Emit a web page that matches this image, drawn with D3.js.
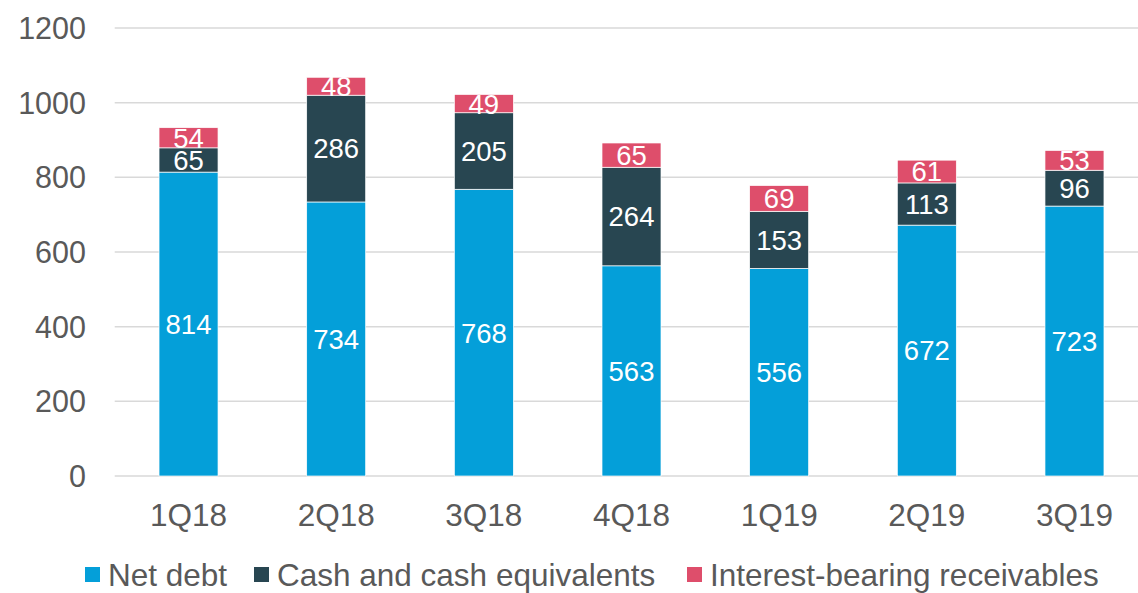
<!DOCTYPE html>
<html><head><meta charset="utf-8">
<script src="https://cdn.jsdelivr.net/npm/d3@7"></script>
<style>body{margin:0;background:#fff}svg{display:block;font-family:"Liberation Sans",Arial,sans-serif}</style>
</head><body>
<svg id="c" width="1138" height="593"></svg>
<script>
const categories = ["1Q18","2Q18","3Q18","4Q18","1Q19","2Q19","3Q19"];
const netDebt = [814,734,768,563,556,672,723];
const cashEquivalents = [65,286,205,264,153,113,96];
const interestReceivables = [54,48,49,65,69,61,53];
const seriesNames = ["Net debt","Cash and cash equivalents","Interest-bearing receivables"];
const seriesColors = ["#049FD9","#284651","#DE4E6B"];
const yTicks = [0,200,400,600,800,1000,1200];

const svg = d3.select("#c");
const x = d3.scaleBand().domain(categories).range([114.7,1148.3]).paddingInner(0.6).paddingOuter(0.3);
const y = d3.scaleLinear().domain([0,1200]).range([476,28]);

const rows = categories.map((c,i)=>({cat:c, s0:netDebt[i], s1:cashEquivalents[i], s2:interestReceivables[i]}));
const stack = d3.stack().keys(["s0","s1","s2"])(rows);

// gridlines
svg.append("g").selectAll("line").data(yTicks).join("line")
  .attr("x1",114.7).attr("x2",1148).attr("y1",d=>y(d)).attr("y2",d=>y(d))
  .attr("stroke","#d9d9d9").attr("stroke-width",1.5);

// y tick labels
svg.append("g").selectAll("text").data(yTicks).join("text")
  .attr("x",86).attr("y",d=>y(d)).attr("text-anchor","end").attr("dy","0.36em")
  .attr("font-size",30.5).attr("fill","#595959").text(d=>d);

// bars
const bw = 59;
stack.forEach((layer,k)=>{
  const g = svg.append("g");
  g.selectAll("rect").data(layer).join("rect")
    .attr("x",d=>x(d.data.cat)+x.bandwidth()/2-bw/2).attr("width",bw)
    .attr("y",d=>y(d[1])).attr("height",d=>y(d[0])-y(d[1]))
    .attr("fill",seriesColors[k]).attr("stroke","#fff").attr("stroke-width",0.7);
  g.selectAll("text").data(layer).join("text")
    .attr("x",d=>x(d.data.cat)+x.bandwidth()/2)
    .attr("y",d=>(y(d[0])+y(d[1]))/2).attr("dy","0.36em")
    .attr("text-anchor","middle").attr("font-size",27.5).attr("fill","#fff")
    .text(d=>d[1]-d[0]);
});

// x labels
svg.append("g").selectAll("text").data(categories).join("text")
  .attr("x",d=>x(d)+x.bandwidth()/2).attr("y",515).attr("dy","0.36em")
  .attr("text-anchor","middle").attr("font-size",31.5).attr("fill","#595959").text(d=>d);

// legend
const legX = [85,254,687];
const lg = svg.append("g");
seriesNames.forEach((n,i)=>{
  lg.append("rect").attr("x",legX[i]).attr("y",567).attr("width",15).attr("height",15).attr("fill",seriesColors[i]);
  lg.append("text").attr("x",legX[i]+23).attr("y",575).attr("dy","0.36em")
    .attr("font-size",31.5).attr("fill","#595959").text(n);
});
</script>
</body></html>
